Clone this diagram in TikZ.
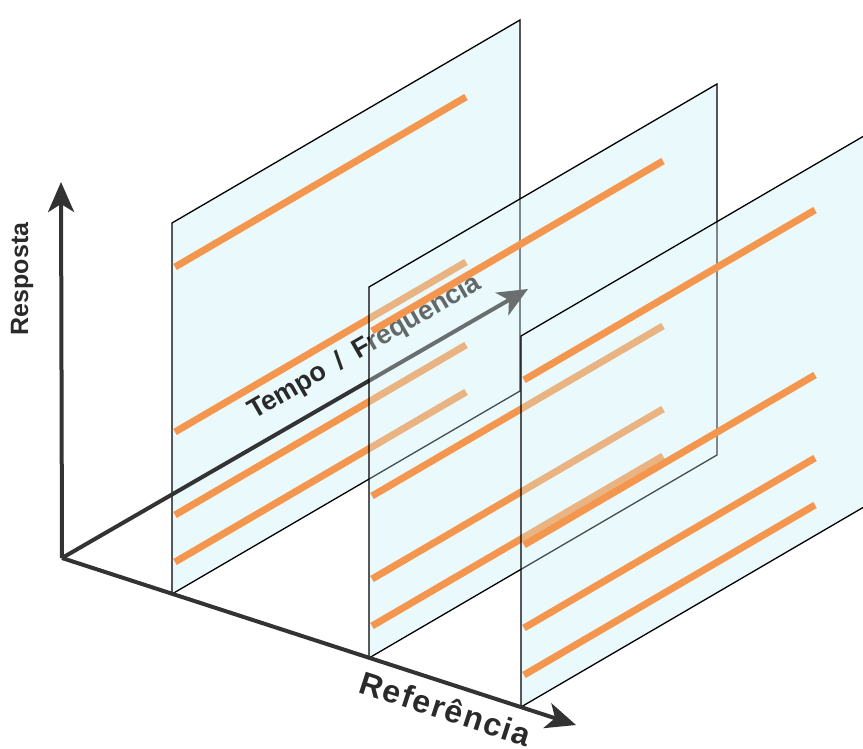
\documentclass[tikz,border=0pt]{standalone}
\usepackage{fontspec}
\setmainfont{Liberation Sans}
\usepackage{xcolor}
\usepackage{tikz}
\usetikzlibrary{positioning, calc, arrows.meta}

\definecolor{axisgray}{HTML}{333333}
\definecolor{traceorange}{HTML}{F5964F}
\definecolor{panelcyan}{RGB}{234,249,251}
\definecolor{labelgray}{HTML}{2A2A2A}

\begin{document}
\begin{tikzpicture}[x=1pt, y=-1pt,
    axis/.style={line width=4pt, draw=axisgray, -{Stealth[length=30pt, width=26pt, inset=8pt]}},
    panel/.style={preaction={fill=panelcyan, blend mode=darken},
                  preaction={fill=panelcyan, fill opacity=0.3, blend mode=lighten},
                  draw=black, line width=1.3pt},
    trace/.style={draw=traceorange, line width=7pt},
    lbl/.style={text=labelgray, inner sep=0pt, font=\bfseries}]

    % Page frame, the last panel runs past the right edge
    \path[use as bounding box] (0,0) rectangle (863,749);
    \clip (0,0) rectangle (863,749);

    % Origin and the three base points on the reference axis
    \coordinate (origin) at (62,558);
    \coordinate (b1) at (172,594);
    \coordinate (b2) at (369,658);
    \coordinate (b3) at (521,707);

    % Response axis (vertical)
    \draw[axis] (origin) -- (61,182) coordinate (respTip);
    \node[lbl, rotate=90, font=\bfseries\fontsize{25}{29}\selectfont] (resposta) at (22,279) {Resposta};

    % First panel with its traces
    \draw[panel] (b1) -- ++(0,-371) -- ++(348,-203) -- ++(0,371) -- cycle;
    \foreach \h in {325,160,77,30}
        \draw[trace] ($(b1)+(3,-2-\h)$) -- ++(291,-170);

    % Time / frequency axis, seen through the next panels
    \draw[axis] (origin) -- (528,289) coordinate (tempoTip);
    \node[lbl, rotate=30, anchor=base west, font=\bfseries\fontsize{27}{31}\selectfont] (tempo) at (254,420)
        {Tempo\hspace{13pt}/\hspace{13pt}Frequencia};

    % Second panel with its traces
    \draw[panel] (b2) -- ++(0,-371) -- ++(348,-203) -- ++(0,371) -- cycle;
    \foreach \h in {325,160,77,30}
        \draw[trace] ($(b2)+(3,-2-\h)$) -- ++(291,-170);

    % Third panel with its traces
    \draw[panel] (b3) -- ++(0,-371) -- ++(348,-203) -- ++(0,371) -- cycle;
    \foreach \h in {325,160,77,30}
        \draw[trace] ($(b3)+(3,-2-\h)$) -- ++(291,-170);

    % Reference axis along the panel feet
    \draw[axis] (origin) -- (576,725) coordinate (refTip);
    \node[lbl, rotate=-18, anchor=base west, font=\bfseries\fontsize{32}{36}\selectfont\addfontfeature{LetterSpace=5}] (referencia) at (357,692) {Referência};

\end{tikzpicture}
\end{document}
